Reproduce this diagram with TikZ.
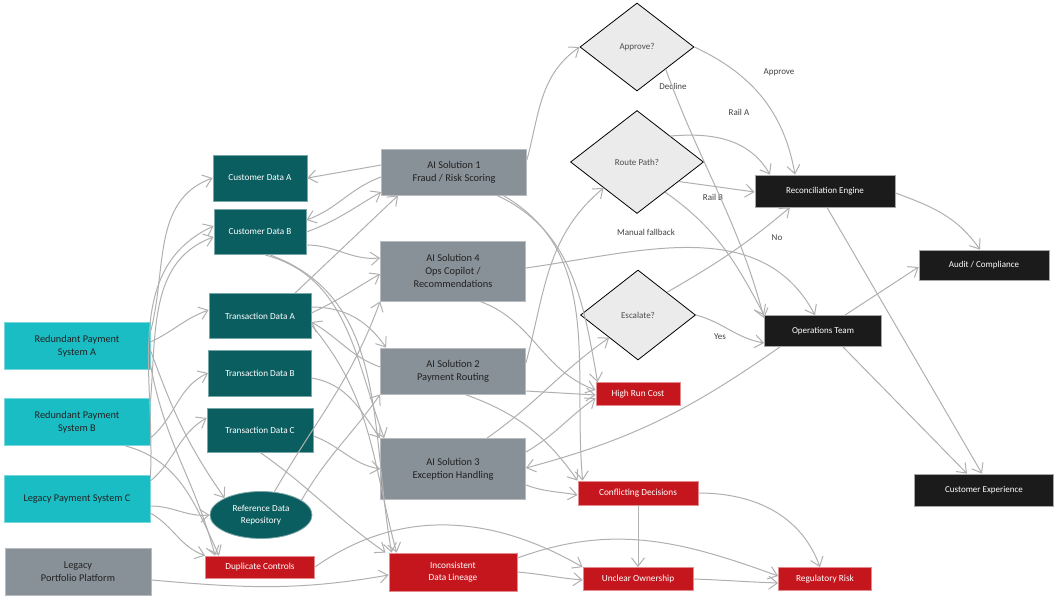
\documentclass[tikz,border=0pt]{standalone}
\usepackage{fontspec}
\setmainfont{Carlito}
\usetikzlibrary{arrows.meta,shapes.geometric}
\definecolor{srcC}{HTML}{1ABDC4}
\definecolor{dataC}{HTML}{0B5E60}
\definecolor{aiC}{HTML}{889098}
\definecolor{riskC}{HTML}{C5161D}
\definecolor{outC}{HTML}{1B1B1B}
\definecolor{decC}{HTML}{EBEBEB}
\definecolor{lineC}{HTML}{B0B0B0}
\definecolor{txtC}{HTML}{222222}
\tikzset{
  box/.style={rectangle, align=center, inner sep=2pt},
  srcbox/.style={box, fill=srcC, draw=srcC!60!white, line width=0.8pt, minimum width=146pt, minimum height=47pt, text=txtC, font=\fontsize{10.3}{13}\selectfont},
  lppbox/.style={srcbox, fill=aiC, draw=aiC!60!white},
  databox/.style={box, fill=dataC, draw=dataC!55!white, line width=0.8pt, minimum height=45pt, text=white, font=\fontsize{9.2}{12.5}\selectfont},
  aibox/.style={box, fill=aiC, draw=aiC!60!white, line width=0.8pt, minimum width=145pt, text=txtC, font=\fontsize{10.4}{13}\selectfont},
  riskbox/.style={box, fill=riskC, draw=riskC!50!white, line width=0.8pt, text=white, font=\fontsize{9.3}{12.5}\selectfont},
  outbox/.style={box, fill=outC, draw=gray!70, line width=0.8pt, text=white, font=\fontsize{9}{11}\selectfont},
  decbox/.style={diamond, fill=decC, draw=black, line width=0.8pt, inner sep=0pt, text=txtC!80, font=\fontsize{9}{11}\selectfont},
  lbl/.style={text=txtC!85, font=\fontsize{9}{10}\selectfont, inner sep=1pt},
  conn/.style={draw=lineC, line width=1pt, -{Straight Barb[length=8.5pt,width=13pt]}}
}
\begin{document}
\begin{tikzpicture}[x=1pt,y=1pt]
\useasboundingbox[fill=white] (0,0) rectangle (1061,-600);
% sources
\node[srcbox] (rpa) at (77,-346) {Redundant Payment\\System A};
\node[srcbox] (rpb) at (77,-422) {Redundant Payment\\System B};
\node[srcbox] (lpc) at (77,-499) {Legacy Payment System C};
\node[lppbox] (lpp) at (78,-572) {Legacy\\Portfolio Platform};
% data
\node[databox, minimum width=94pt, minimum height=46pt] (cda) at (260,-178) {Customer Data A};
\node[databox, minimum width=92pt] (cdb) at (260,-232) {Customer Data B};
\node[databox, minimum width=102pt] (tda) at (260,-316) {Transaction Data A};
\node[databox, minimum width=103pt, minimum height=46pt] (tdb) at (260,-373) {Transaction Data B};
\node[databox, minimum width=106pt, minimum height=44pt] (tdc) at (260,-430) {Transaction Data C};
\node[databox, ellipse, inner sep=0pt, minimum width=102pt, minimum height=47pt] (rdr) at (261,-515) {Reference Data\\Repository};
\node[riskbox, minimum width=109pt, minimum height=22pt] (dup) at (260,-567) {Duplicate Controls};
% AI
\node[aibox, minimum height=46pt] (ai1) at (454,-172) {AI Solution 1\\Fraud / Risk Scoring};
\node[aibox, minimum height=60pt] (ai4) at (453,-271) {AI Solution 4\\Ops Copilot /\\Recommendations};
\node[aibox, minimum height=46pt] (ai2) at (453,-371) {AI Solution 2\\Payment Routing};
\node[aibox, minimum height=61pt] (ai3) at (453,-469) {AI Solution 3\\Exception Handling};
\node[riskbox, minimum width=128pt, minimum height=38pt] (idl) at (453,-572) {Inconsistent\\Data Lineage};
% decisions
\node[decbox, minimum width=114pt, minimum height=88pt] (appr) at (637,-47) {Approve?};
\node[decbox, minimum width=133pt, minimum height=103pt] (route) at (637,-162) {Route Path?};
\node[decbox, minimum width=115pt, minimum height=90pt] (esc) at (638,-315) {Escalate?};
% risks
\node[riskbox, minimum width=84pt, minimum height=23pt] (hrc) at (638,-394) {High Run Cost};
\node[riskbox, minimum width=120pt, minimum height=24pt] (cd) at (638,-493) {Conflicting Decisions};
\node[riskbox, minimum width=110pt, minimum height=23pt] (uo) at (638,-579) {Unclear Ownership};
\node[riskbox, minimum width=93pt, minimum height=23pt] (rr) at (825,-579) {Regulatory Risk};
% outcomes
\node[outbox, minimum width=140pt, minimum height=32pt] (rec) at (825,-191) {Reconciliation Engine};
\node[outbox, minimum width=117pt, minimum height=31pt] (ops) at (823,-331) {Operations Team};
\node[outbox, minimum width=130pt, minimum height=30pt] (aud) at (984,-265) {Audit / Compliance};
\node[outbox, minimum width=139pt, minimum height=32pt] (cx) at (984,-490) {Customer Experience};
% edge labels
\node[lbl] (lApprove) at (779,-72) {Approve};
\node[lbl] (lDecline) at (673,-86) {Decline};
\node[lbl] (lRailA) at (739,-112) {Rail A};
\node[lbl] (lRailB) at (713,-197) {Rail B};
\node[lbl] (lManual) at (646,-232) {Manual fallback};
\node[lbl] (lNo) at (777,-238) {No};
\node[lbl] (lYes) at (720,-337) {Yes};
% sources -> data
\draw[conn] ([yshift=14pt]rpa.east) to[out=75,in=200] (cda.west);
\draw[conn] ([yshift=20pt]rpb.east) to[out=85,in=200] ([yshift=-5pt]cdb.west);
\draw[conn] ([yshift=22pt]lpc.east) to[out=87,in=205] ([yshift=6pt]cdb.west);
\draw[conn] ([yshift=4pt]rpa.east) to[out=25,in=200] ([yshift=6pt]tda.west);
\draw[conn] ([yshift=-16pt]rpb.east) to[out=40,in=205] (tdb.west);
\draw[conn] ([yshift=18pt]lpc.east) to[out=40,in=210] ([yshift=12pt]tdc.west);
\draw[conn] ([yshift=-4pt]rpa.east) to[out=-70,in=125] (rdr.north west);
\draw[conn] ([yshift=-18pt]rpa.east) to[out=-80,in=105] ([xshift=10pt]dup.north west);
\draw[conn] ([xshift=-25pt]rpb.south east) to[out=-15,in=115] ([xshift=14pt]dup.north west);
\draw[conn] ([yshift=-7pt]lpc.east) to[out=0,in=185] (rdr.west);
\draw[conn] ([yshift=-14pt]lpc.east) to[out=-30,in=160] (dup.north west);
\draw[conn] ([yshift=-8pt]lpp.east) to[out=-5,in=190] ([yshift=-3pt]idl.west);
% data <-> AI
\draw[conn] ([yshift=7pt]ai1.west) to[out=190,in=10] (cda.east);
\draw[conn] ([yshift=-5pt]ai1.west) to[out=200,in=20] ([yshift=12pt]cdb.east);
\draw[conn] (cdb.east) to[out=20,in=210] ([yshift=-20pt]ai1.west);
\draw[conn] ([xshift=35pt]tda.north) -- ([xshift=17pt]ai1.south west);
\draw[conn] ([yshift=-13pt]cdb.east) to[out=0,in=185] ([yshift=13pt]ai4.west);
\draw[conn] ([yshift=3pt]tda.east) to[out=25,in=210] ([yshift=-3pt]ai4.west);
\draw[conn] (rdr.60) to[out=60,in=250] (ai4.south west);
\draw[conn] ([yshift=9pt]tda.east) to[out=0,in=125] ([xshift=6pt]ai2.north west);
\draw[conn] ([yshift=4pt]ai2.west) to[out=160,in=-30] ([yshift=-6pt]tda.east);
\draw[conn] (rdr.20) to[out=60,in=235] (ai2.south west);
\draw[conn] ([yshift=-5pt]tdb.east) to[out=-10,in=125] (ai3.north west);
\draw[conn] ([yshift=-6pt]tdc.east) to[out=-20,in=170] (ai3.west);
\draw[conn] ([xshift=5pt]cdb.south) to[out=-15,in=110] ([xshift=4pt]ai3.north west);
\draw[conn] ([xshift=10pt]cdb.south) to[out=-20,in=100] ([xshift=3pt]idl.north west);
\draw[conn] ([yshift=-9pt]tda.east) to[out=-50,in=105] ([xshift=8pt]idl.north west);
\draw[conn] (tdc.south) to[out=-35,in=145] ([xshift=-3pt]idl.north west);
% risks chain
\draw[conn] (dup.east) to[out=35,in=150] (uo.north west);
\draw[conn] (idl.east) to[out=-5,in=175] ([yshift=-1pt]uo.west);
\draw[conn] ([yshift=14pt]idl.east) to[out=20,in=160] ([yshift=3pt]rr.west);
\draw[conn] (uo.east) to[out=-2,in=178] ([yshift=-4pt]rr.west);
\draw[conn] (cd.south) -- (uo.north);
\draw[conn] (cd.east) to[out=0,in=110] ([xshift=-5pt]rr.north);
% AI -> right
\draw[conn] ([yshift=12pt]ai1.east) to[out=75,in=215] (appr.west);
\draw[conn] ([xshift=43pt]ai1.south) to[out=-25,in=100] ([xshift=2pt]hrc.north west);
\draw[conn] ([xshift=49pt]ai1.south) to[out=-30,in=95] ([xshift=5pt]cd.north west);
\draw[conn] ([yshift=3pt]ai4.east) to[out=8,in=118] ([xshift=-8pt]ops.north);
\draw[conn] ([xshift=27pt]ai4.south) to[out=-20,in=160] ([yshift=4pt]hrc.west);
\draw[conn] ([yshift=8pt]ai2.east) to[out=75,in=220] (route.south west);
\draw[conn] ([yshift=-20pt]ai2.east) -- ([yshift=-1pt]hrc.west);
\draw[conn] ([xshift=12pt]ai2.south) to[out=-20,in=125] (cd.north west);
\draw[conn] ([xshift=34pt]ai3.north) to[out=35,in=215] (esc.south west);
\draw[conn] ([yshift=17pt]ai3.east) to[out=30,in=215] ([yshift=-4pt]hrc.west);
\draw[conn] ([yshift=-16pt]ai3.east) to[out=-20,in=170] ([yshift=-2pt]cd.west);
\draw[conn] ([xshift=-43pt]ops.south) to[out=215,in=15] ([yshift=1pt]ai3.east);
% decisions
\draw[conn] (appr.east) to[out=-25,in=100] ([xshift=-30pt]rec.north);
\draw[conn] (appr.south east) to[out=-70,in=105] ([yshift=-3pt]ops.north west);
\draw[conn] (route.north east) to[out=5,in=120] ([xshift=-55pt]rec.north);
\draw[conn] (route.-25) -- ([yshift=-1pt]rec.west);
\draw[conn] (route.-47) to[out=-35,in=118] (ops.north west);
\draw[conn] (esc.east) to[out=-15,in=170] ([yshift=-12pt]ops.west);
\draw[conn] (esc.north east) to[out=30,in=220] ([xshift=-35pt]rec.south);
% outcomes
\draw[conn] ([yshift=-2pt]rec.east) to[out=-20,in=125] ([xshift=-4pt]aud.north);
\draw[conn] ([xshift=2pt]rec.south) -- ([xshift=-2pt]cx.north);
\draw[conn] ([xshift=22pt]ops.north) -- ([yshift=-2pt]aud.west);
\draw[conn] ([xshift=20pt]ops.south) -- ([xshift=-17pt]cx.north);
\end{tikzpicture}
\end{document}
